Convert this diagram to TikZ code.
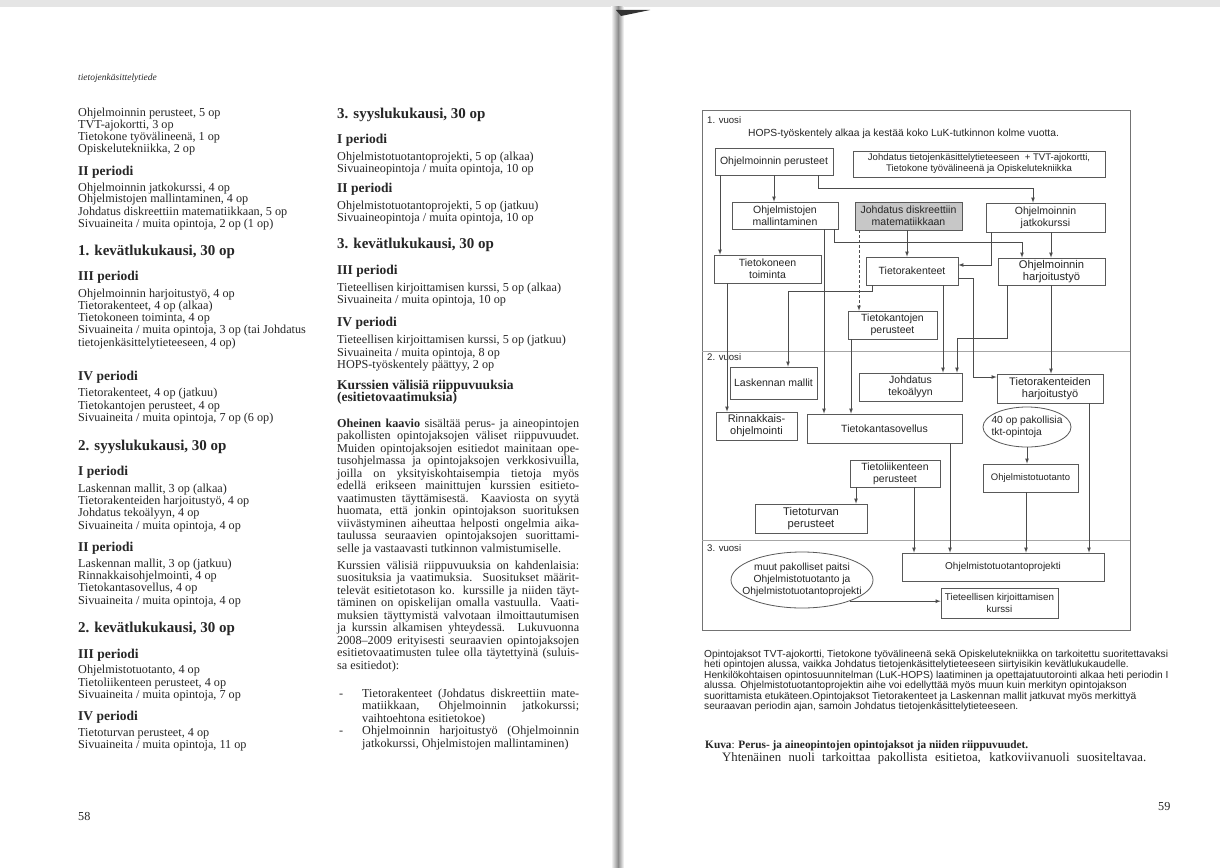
\documentclass[tikz,border=0pt]{standalone}
\usepackage{fontspec}
\setmainfont{Liberation Serif}
\setsansfont{Liberation Sans}
\usetikzlibrary{positioning}
\usetikzlibrary{calc}
\usetikzlibrary{shapes.geometric}

\begin{document}
\begin{tikzpicture}[x=1pt, y=-1pt, >=latex,
  rivi/.style={anchor=base west, inner sep=0, text=black!85, font=\fontsize{12.2}{12.2}\selectfont},
  periodi/.style={rivi, font=\fontsize{13.5}{14}\selectfont\bfseries},
  kausi/.style={rivi, font=\fontsize{15}{16}\selectfont\bfseries},
  kurssi/.style={rectangle, draw=black!65, line width=0.8pt, fill=white, inner sep=0, align=center, text=black!85, font=\sffamily\fontsize{10.5}{12}\selectfont},
  soikio/.style={ellipse, draw=black!65, line width=0.8pt, fill=white, inner sep=0, text=black!85, font=\sffamily\fontsize{10.3}{11.8}\selectfont},
  yhteys/.style={->, line width=0.7pt, draw=black!70},
  selite/.style={anchor=base west, inner sep=0, text=black!85, font=\sffamily\fontsize{10.2}{10.5}\selectfont}]

% paper
\fill[white] (0,0) rectangle (1220,867);
\fill[black!10] (0,0) rectangle (1220,7);
\shade[left color=white, right color=black!45] (611,7) rectangle (618,867);
\shade[left color=black!45, right color=white] (618,7) rectangle (624,867);
\fill[black!80] (616,10) -- (650,10) -- (621,16) -- cycle;

% left page
\node[rivi, font=\fontsize{9.5}{10}\selectfont\itshape] (ylatunniste) at (78,80) {tietojenkäsittelytiede};
\foreach \y/\t [count=\i] in {116.5/{Ohjelmoinnin perusteet, 5 op}, 128.5/{TVT-ajokortti, 3 op},
    140.5/{Tietokone työvälineenä, 1 op}, 152.5/{Opiskelutekniikka, 2 op},
    191/{Ohjelmoinnin jatkokurssi, 4 op}, 202.5/{Ohjelmistojen mallintaminen, 4 op},
    215/{Johdatus diskreettiin matematiikkaan, 5 op}, 227/{Sivuaineita / muita opintoja, 2 op (1 op)},
    297/{Ohjelmoinnin harjoitustyö, 4 op}, 309/{Tietorakenteet, 4 op (alkaa)},
    321/{Tietokoneen toiminta, 4 op}, 333/{Sivuaineita / muita opintoja, 3 op (tai Johdatus},
    346/{tietojenkäsittelytieteeseen, 4 op)},
    396/{Tietorakenteet, 4 op (jatkuu)}, 409/{Tietokantojen perusteet, 4 op},
    421/{Sivuaineita / muita opintoja, 7 op (6 op)},
    492/{Laskennan mallit, 3 op (alkaa)}, 504/{Tietorakenteiden harjoitustyö, 4 op},
    516/{Johdatus tekoälyyn, 4 op}, 529/{Sivuaineita / muita opintoja, 4 op},
    567/{Laskennan mallit, 3 op (jatkuu)}, 579/{Rinnakkaisohjelmointi, 4 op},
    591/{Tietokantasovellus, 4 op}, 604/{Sivuaineita / muita opintoja, 4 op},
    673/{Ohjelmistotuotanto, 4 op}, 686/{Tietoliikenteen perusteet, 4 op},
    698/{Sivuaineita / muita opintoja, 7 op},
    736/{Tietoturvan perusteet, 4 op}, 748/{Sivuaineita / muita opintoja, 11 op}}
  \node[rivi] (vas\i) at (78,\y) {\t};
\foreach \y/\t [count=\i] in {175/II periodi, 280/III periodi, 380/IV periodi, 475/I periodi,
    551/II periodi, 658/III periodi, 720/IV periodi}
  \node[periodi] (vper\i) at (78,\y) {\t};
\foreach \y/\t [count=\i] in {255/{1. kevätlukukausi, 30 op}, 450/{2. syyslukukausi, 30 op},
    632/{2. kevätlukukausi, 30 op}}
  \node[kausi] (vkausi\i) at (78,\y) {\t};
\node[rivi] (sivu58) at (78,820) {58};

% middle column
\foreach \y/\t [count=\i] in {160/{Ohjelmistotuotantoprojekti, 5 op (alkaa)}, 172/{Sivuaineopintoja / muita opintoja, 10 op},
    209/{Ohjelmistotuotantoprojekti, 5 op (jatkuu)}, 221/{Sivuaineopintoja / muita opintoja, 10 op},
    291/{Tieteellisen kirjoittamisen kurssi, 5 op (alkaa)}, 303/{Sivuaineita / muita opintoja, 10 op},
    343/{Tieteellisen kirjoittamisen kurssi, 5 op (jatkuu)}, 356/{Sivuaineita / muita opintoja, 8 op},
    368/{HOPS-työskentely päättyy, 2 op}}
  \node[rivi] (oik\i) at (337,\y) {\t};
\foreach \y/\t [count=\i] in {143/I periodi, 192/II periodi, 274/III periodi, 326/IV periodi,
    389/Kurssien välisiä riippuvuuksia, 401.5/(esitietovaatimuksia)}
  \node[periodi] (oper\i) at (337,\y) {\t};
\foreach \y/\t [count=\i] in {118/{3. syyslukukausi, 30 op}, 248/{3. kevätlukukausi, 30 op}}
  \node[kausi] (okausi\i) at (337,\y) {\t};

\foreach \y/\t [count=\i] in {427/{\textbf{Oheinen kaavio} sisältää perus- ja aineopintojen},
    439.5/{pakollisten opintojaksojen väliset riippuvuudet.},
    452/{Muiden opintojaksojen esitiedot mainitaan ope-},
    464.5/{tusohjelmassa ja opintojaksojen verkkosivuilla,},
    477/{joilla on yksityiskohtaisempia tietoja myös},
    489.5/{edellä erikseen mainittujen kurssien esitieto-},
    502/{vaatimusten täyttämisestä. Kaaviosta on syytä},
    514.5/{huomata, että jonkin opintojakson suorituksen},
    527/{viivästyminen aiheuttaa helposti ongelmia aika-},
    539.5/{taulussa seuraavien opintojaksojen suorittami-},
    569/{Kurssien välisiä riippuvuuksia on kahdenlaisia:},
    581.5/{suosituksia ja vaatimuksia. Suositukset määrit-},
    594/{televät esitietotason ko. kurssille ja niiden täyt-},
    606.5/{täminen on opiskelijan omalla vastuulla. Vaati-},
    619/{muksien täyttymistä valvotaan ilmoittautumisen},
    631.5/{ja kurssin alkamisen yhteydessä. Lukuvuonna},
    644/{2008--2009 erityisesti seuraavien opintojaksojen},
    656.5/{esitietovaatimusten tulee olla täytettyinä (suluis-}}
  \node[rivi] (tas\i) at (337,\y) {\makebox[242pt][s]{\t}};
\node[rivi] (kpl1loppu) at (337,552) {selle ja vastaavasti tutkinnon valmistumiselle.};
\node[rivi] (kpl2loppu) at (337,669) {sa esitiedot):};
\node[rivi] (viiva1) at (339,697) {-};
\node[rivi] (viiva2) at (339,734.5) {-};
\node[rivi] (lista1) at (362,697) {\makebox[217pt][s]{Tietorakenteet (Johdatus diskreettiin mate-}};
\node[rivi] (lista2) at (362,709.5) {\makebox[217pt][s]{matiikkaan, Ohjelmoinnin jatkokurssi;}};
\node[rivi] (lista3) at (362,722) {vaihtoehtona esitietokoe)};
\node[rivi] (lista4) at (362,734.5) {\makebox[217pt][s]{Ohjelmoinnin harjoitustyö (Ohjelmoinnin}};
\node[rivi] (lista5) at (362,747) {jatkokurssi, Ohjelmistojen mallintaminen)};

% right page: diagram frame
\draw[black!55, line width=0.7pt] (702,110) rectangle (1130,630);
\draw[black!35, line width=0.7pt] (702,351) -- (1130,351);
\draw[black!35, line width=0.7pt] (702,540) -- (1130,540);
\node[selite, font=\sffamily\fontsize{9.6}{11}\selectfont] (vuosi1) at (707,123) {1. vuosi};
\node[selite, font=\sffamily\fontsize{9.6}{11}\selectfont] (vuosi2) at (707,360) {2. vuosi};
\node[selite, font=\sffamily\fontsize{9.6}{11}\selectfont] (vuosi3) at (707,551) {3. vuosi};
\node[selite, anchor=base, font=\sffamily\fontsize{10.3}{12}\selectfont] (hops) at (903.5,136) {HOPS-työskentely alkaa ja kestää koko LuK-tutkinnon kolme vuotta.};

\node[kurssi, minimum width=118, minimum height=27] (perusteet) at (774,161.5) {Ohjelmoinnin perusteet};
\node[kurssi, minimum width=252, minimum height=26, font=\sffamily\fontsize{9.6}{11}\selectfont] (johdatus) at (979,164) {Johdatus tietojenkäsittelytieteeseen\ \ + TVT-ajokortti,\\Tietokone työvälineenä ja Opiskelutekniikka};
\node[kurssi, minimum width=106, minimum height=27] (mallinnus) at (785,215.5) {Ohjelmistojen\\mallintaminen};
\node[kurssi, fill=black!22, minimum width=107, minimum height=28] (diskr) at (908.5,216) {Johdatus diskreettiin\\matematiikkaan};
\node[kurssi, minimum width=119, minimum height=29] (jatko) at (1045.5,217.5) {Ohjelmoinnin\\jatkokurssi};
\node[kurssi, minimum width=107, minimum height=28] (toiminta) at (767.5,269) {Tietokoneen\\toiminta};
\node[kurssi, minimum width=92, minimum height=28] (rakenteet) at (912,271) {Tietorakenteet};
\node[kurssi, minimum width=107, minimum height=27, font=\sffamily\fontsize{11.2}{12.5}\selectfont] (harjoitus) at (1051.5,271.5) {Ohjelmoinnin\\harjoitustyö};
\node[kurssi, minimum width=89, minimum height=28] (kannat) at (892.5,325) {Tietokantojen\\perusteet};
\node[kurssi, minimum width=87, minimum height=32] (laskenta) at (773.5,383) {Laskennan mallit};
\node[kurssi, minimum width=103, minimum height=28] (tekoaly) at (910.5,387) {Johdatus\\tekoälyyn};
\node[kurssi, minimum width=106, minimum height=29, font=\sffamily\fontsize{11}{12.3}\selectfont] (rakharj) at (1050,388.5) {Tietorakenteiden\\harjoitustyö};
\node[kurssi, minimum width=81, minimum height=28, font=\sffamily\fontsize{11}{12.3}\selectfont] (rinnak) at (756.5,426) {Rinnakkais-\\ohjelmointi};
\node[kurssi, minimum width=155, minimum height=29] (kantasov) at (884.5,428.5) {Tietokantasovellus};
\node[soikio, minimum width=88, minimum height=40] (nelkyt) at (1027,427) {\makebox[55pt]{\begin{tabular}{@{}l@{}}40 op pakollisia\\tkt-opintoja\end{tabular}}};
\node[kurssi, minimum width=95, minimum height=28, font=\sffamily\fontsize{9.5}{11}\selectfont] (tuotanto) at (1030.5,478) {Ohjelmistotuotanto};
\node[kurssi, minimum width=90, minimum height=27] (liikenne) at (895,473.5) {Tietoliikenteen\\perusteet};
\node[kurssi, minimum width=112, minimum height=29, font=\sffamily\fontsize{11.2}{12.5}\selectfont] (turva) at (811,518.5) {Tietoturvan\\perusteet};
\node[kurssi, minimum width=202, minimum height=28, font=\sffamily\fontsize{10}{12}\selectfont] (projekti) at (1003,567) {Ohjelmistotuotantoprojekti};
\node[soikio, minimum width=142, minimum height=56] (muut) at (802,580) {\makebox[90pt]{\begin{tabular}{@{}c@{}}muut pakolliset paitsi\\Ohjelmistotuotanto ja\\Ohjelmistotuotantoprojekti\end{tabular}}};
\node[kurssi, minimum width=117, minimum height=30, font=\sffamily\fontsize{9.8}{11.5}\selectfont] (kirj) at (999.5,603) {Tieteellisen kirjoittamisen\\kurssi};

\draw[yhteys] (perusteet.south) -- (perusteet.south |- mallinnus.north);
\draw[yhteys] ([xshift=-54]perusteet.south) -- ([xshift=-54]perusteet.south |- toiminta.north);
\draw[yhteys] ([xshift=44]perusteet.south) -- ++(0,13) -| ([xshift=-12.5]jatko.north);
\draw[yhteys] ([xshift=39]mallinnus.south) -- ([xshift=39]mallinnus.south |- kantasov.north);
\draw[yhteys] ([xshift=49]mallinnus.south) -- ++(0,13) -| ([xshift=-29.5]harjoitus.north);
\draw[yhteys] ([xshift=-1.5]diskr.south) -- ([xshift=-1.5]diskr.south |- rakenteet.north);
\draw[yhteys, densely dashed] ([xshift=-49.5]diskr.south) -- ([xshift=-49.5]diskr.south |- kannat.north);
\draw[yhteys] ([xshift=-54.5]jatko.south) |- ([yshift=6]rakenteet.east);
\draw[yhteys] ([xshift=5.5]jatko.south) -- ([xshift=5.5]jatko.south |- harjoitus.north);
\draw[yhteys] ([xshift=-40.5]toiminta.south) -- ([xshift=-40.5]toiminta.south |- rinnak.north);
\draw[yhteys] ([xshift=-40]rakenteet.south) -- ++(0,6) -| ([xshift=14.5]laskenta.north);
\draw[yhteys] ([xshift=31]rakenteet.south) -- ([xshift=31]rakenteet.south |- tekoaly.north);
\draw[yhteys] ([yshift=-7]rakenteet.east) -- ++(15,0) |- ([yshift=11.5]rakharj.west);
\draw[yhteys] ([xshift=-44.5]harjoitus.south) -- ++(0,53) -| ([xshift=46.5]tekoaly.north);
\draw[yhteys] ([xshift=-0.5]harjoitus.south) -- ([xshift=-0.5]harjoitus.south |- rakharj.north);
\draw[yhteys] ([xshift=-41.5]kannat.south) -- ([xshift=-41.5]kannat.south |- kantasov.north);
\draw[yhteys] ([xshift=65.5]kantasov.south) -- ([xshift=65.5]kantasov.south |- projekti.north);
\draw[yhteys] (nelkyt.south) -- (nelkyt.south |- tuotanto.north);
\draw[yhteys] ([xshift=-4.5]tuotanto.south) -- ([xshift=-4.5]tuotanto.south |- projekti.north);
\draw[yhteys] ([xshift=39]rakharj.south) -- ([xshift=39]rakharj.south |- projekti.north);
\draw[yhteys] ([xshift=-39]liikenne.south) -- ([xshift=-39]liikenne.south |- turva.north);
\draw[yhteys] ([xshift=19]liikenne.south) -- ([xshift=19]liikenne.south |- projekti.north);
\draw[yhteys] (muut.-24) -- (muut.-24 -| kirj.west);

% right page: texts below the diagram
\foreach \y/\t [count=\i] in {657/{Opintojaksot TVT-ajokortti, Tietokone työvälineenä sekä Opiskelutekniikka on tarkoitettu suoritettavaksi},
    667.5/{heti opintojen alussa, vaikka Johdatus tietojenkäsittelytieteeseen siirtyisikin kevätlukukaudelle.},
    678/{Henkilökohtaisen opintosuunnitelman (LuK-HOPS) laatiminen ja opettajatuutorointi alkaa heti periodin I},
    688.5/{alussa. Ohjelmistotuotantoprojektin aihe voi edellyttää myös muun kuin merkityn opintojakson},
    699/{suorittamista etukäteen.Opintojaksot Tietorakenteet ja Laskennan mallit jatkuvat myös merkittyä},
    709.5/{seuraavan periodin ajan, samoin Johdatus tietojenkäsittelytieteeseen.}}
  \node[selite] (huom\i) at (704,\y) {\t};
\node[rivi, font=\fontsize{11.3}{12}\selectfont] (kuva) at (705,748) {\textbf{Kuva}: \textbf{Perus- ja aineopintojen opintojaksot ja niiden riippuvuudet.}};
\node[rivi, font=\fontsize{12.8}{13}\selectfont] (kuvateksti) at (722,761) {\makebox[424pt][s]{Yhtenäinen nuoli tarkoittaa pakollista esitietoa, katkoviivanuoli suositeltavaa.}};
\node[rivi] (sivu59) at (1158,810) {59};
\end{tikzpicture}
\end{document}
